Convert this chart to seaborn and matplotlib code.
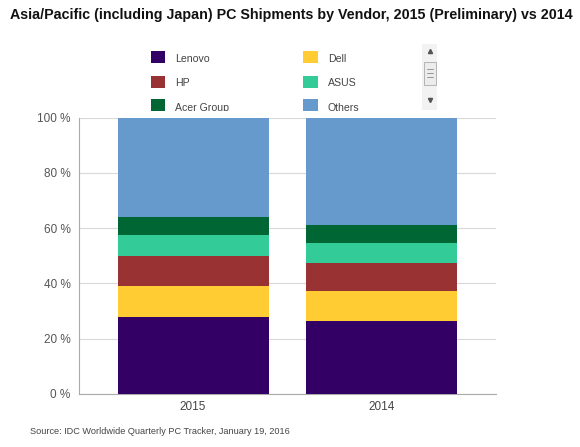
import matplotlib
matplotlib.use("Agg")
import matplotlib.pyplot as plt
import seaborn as sns
import numpy as np
import pandas as pd
from matplotlib.patches import Rectangle

years = ["2015", "2014"]
vendors = ["Lenovo", "Dell", "HP", "ASUS", "Acer Group", "Others"]
lenovo = [27.9, 26.5]
dell = [11.3, 10.9]
hp = [10.7, 10.1]
asus = [7.6, 7.0]
acer = [6.4, 6.5]
others = [36.1, 39.0]
colors = ["#330066", "#ffcc33", "#993333", "#33cc99", "#006633", "#6699cc"]
yticks = [0, 20, 40, 60, 80, 100]
ytick_labels = ["0 %", "20 %", "40 %", "60 %", "80 %", "100 %"]
title = "Asia/Pacific (including Japan) PC Shipments by Vendor, 2015 (Preliminary) vs 2014"
source = "Source: IDC Worldwide Quarterly PC Tracker, January 19, 2016"

sns.set_style("white")
plt.rcParams['font.family'] = ['Liberation Sans', 'DejaVu Sans']

series = [lenovo, dell, hp, asus, acer, others]
cum = np.cumsum(np.array(series), axis=0)

fig = plt.figure(figsize=(5.8, 4.47), dpi=100)
ax = fig.add_axes([79/580, 1-394/447, (495.7-79)/580, (394-117.7)/447])

# draw from the top-most cumulative down so each layer overlays the previous
for i in range(len(vendors)-1, -1, -1):
    df = pd.DataFrame({"year": years, "value": cum[i]})
    sns.barplot(data=df, x="year", y="value", order=years, color=colors[i],
                saturation=1, width=0.8, errorbar=None, ax=ax, zorder=3,
                edgecolor="none", linewidth=0)

ax.set_xlim(-0.604, 1.603)
ax.set_ylim(0, 100)
ax.set_yticks(yticks)
ax.set_yticklabels(ytick_labels, color="#555555", fontsize=8.5)
ax.tick_params(axis="x", labelcolor="#444444", labelsize=8.5, length=0, pad=5)
ax.tick_params(axis="y", length=0, pad=6)
ax.set_xlabel("")
ax.set_ylabel("")
ax.yaxis.grid(True, color="#d9d9d9", linewidth=0.8, zorder=0)
ax.set_axisbelow(True)
for s in ["top", "right"]:
    ax.spines[s].set_visible(False)
ax.spines["left"].set_color("#aaaaaa")
ax.spines["bottom"].set_color("#aaaaaa")
ax.spines["left"].set_linewidth(0.8)
ax.spines["bottom"].set_linewidth(0.8)

fig.text(10/580, 1-15/447, title, fontsize=10.3, fontweight="bold", color="#111111",
         ha="left", va="center")
fig.text(30/580, 1-431/447, source, fontsize=6.6, color="#444444", ha="left", va="center")

# legend area (clipped, like a scrolling legend)
lax = fig.add_axes([140/580, 1-110.5/447, (450-140)/580, (110.5-44)/447])
lax.set_xlim(140, 450)
lax.set_ylim(110.5, 44)
lax.axis("off")
pos = [(150.7, 57.5), (150.7, 81.7), (150.7, 105.0),
       (303.3, 57.5), (303.3, 81.7), (303.3, 105.0)]
order = [0, 2, 4, 1, 3, 5]
for (px, py), idx in zip(pos, order):
    r = Rectangle((px, py-6), 14.5, 12, facecolor=colors[idx], edgecolor="none")
    lax.add_patch(r)
    r.set_clip_box(lax.bbox)
    t = lax.text(px+24.5, py + (3.2 if py > 100 else 1.5), vendors[idx], fontsize=7.6,
                 color="#444444", ha="left", va="center", clip_on=True)
    t.set_clip_box(lax.bbox)
# scrollbar
lax.add_patch(Rectangle((421.5, 44.5), 15, 65, facecolor="#f2f2f2", edgecolor="none"))
lax.add_patch(Rectangle((423.5, 62), 12.5, 23, facecolor="#ececec", edgecolor="#aaaaaa", linewidth=0.6))
for yy in (69, 73, 77):
    lax.plot([427, 432.5], [yy, yy], color="#888888", linewidth=0.6)
lax.plot([430], [51.5], marker="^", markersize=3, color="#555555")
lax.plot([430], [100], marker="v", markersize=3, color="#555555")

fig.savefig("out.png", dpi=100)
